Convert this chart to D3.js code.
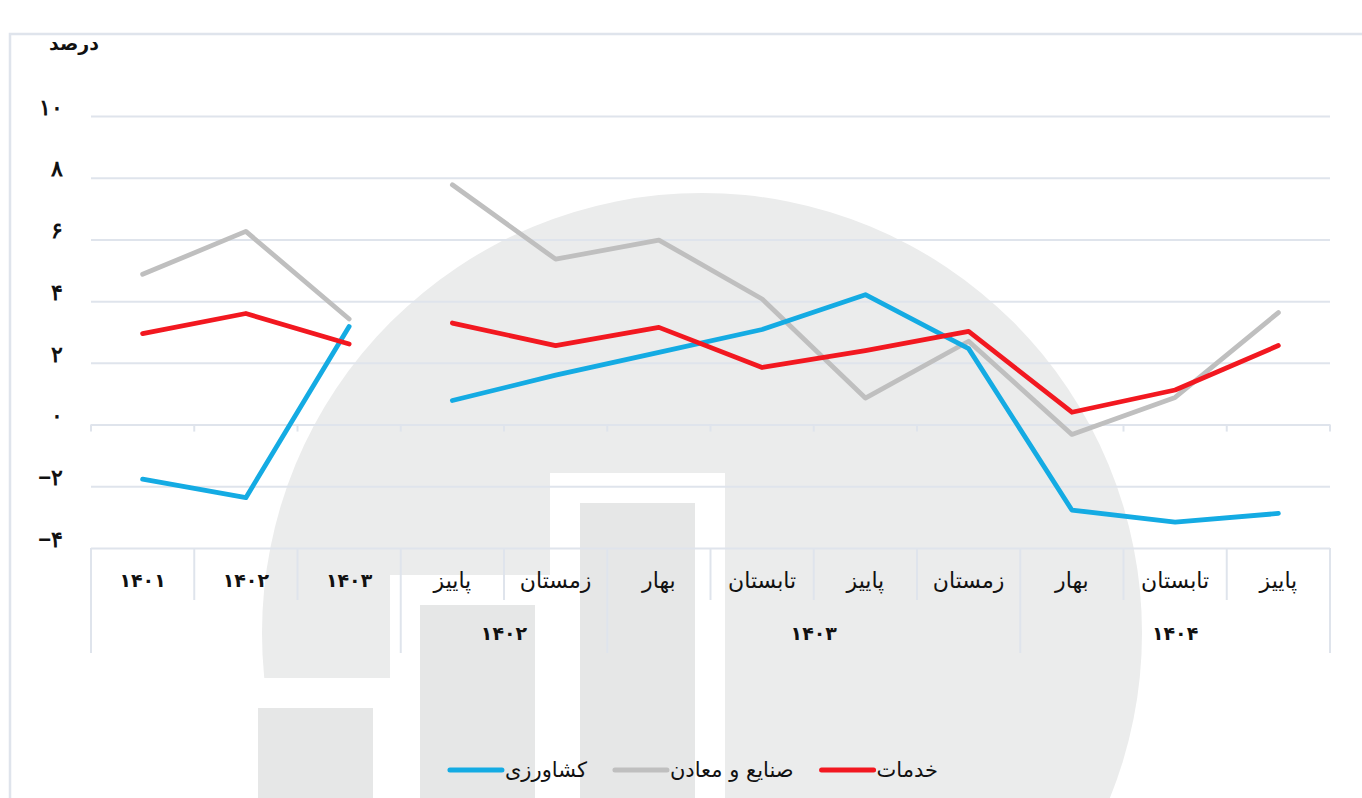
<!DOCTYPE html>
<html>
<head>
<meta charset="utf-8">
<script src="https://cdn.jsdelivr.net/npm/d3@7"></script>
<style>
  body { margin: 0; background: #fff; }
  svg { display: block; font-family: "DejaVu Sans", sans-serif; }
</style>
</head>
<body>
<div id="chart-area"></div>
<script>
// categories along the x axis (annual first, then quarters)
const categories = ["۱۴۰۱", "۱۴۰۲", "۱۴۰۳", "پاییز", "زمستان", "بهار", "تابستان", "پاییز", "زمستان", "بهار", "تابستان", "پاییز"];
const periodKind = ["annual", "annual", "annual", "quarter", "quarter", "quarter", "quarter", "quarter", "quarter", "quarter", "quarter", "quarter"];

// year groups under the quarters
const groupLabels = ["", "۱۴۰۲", "۱۴۰۳", "۱۴۰۴"];
const groupFirst = [0, 3, 5, 9];
const groupLast = [2, 4, 8, 11];

// growth, percent
const agriculture = [-1.77, -2.37, 3.18, 0.78, 1.6, 2.34, 3.08, 4.21, 2.46, -2.77, -3.16, -2.88];
const industry = [4.87, 6.26, 3.42, 7.77, 5.36, 5.98, 4.07, 0.86, 2.7, -0.32, 0.88, 3.63];
const services = [2.95, 3.6, 2.61, 3.29, 2.56, 3.15, 1.85, 2.4, 3.02, 0.4, 1.12, 2.56];

const seriesNames = ["خدمات", "صنایع و معادن", "کشاورزی"];
const yTicks = [-4, -2, 0, 2, 4, 6, 8, 10];

const COLORS = {"خدمات": "#f21820", "صنایع و معادن": "#bfbfbf", "کشاورزی": "#14abe3"};
const GRID = "#dfe4ec";

const series = [
  {name: "صنایع و معادن", values: industry},
  {name: "کشاورزی", values: agriculture},
  {name: "خدمات", values: services}
];

const W = 1362, H = 798;
const plotLeft = 91, plotRight = 1330, plotTop = 116, plotBottom = 548;

const svg = d3.select("#chart-area").append("svg")
    .attr("width", W)
    .attr("height", H);

// card frame
svg.append("path")
    .attr("d", `M10,${H + 5} L10,34 L${W + 5},34`)
    .attr("fill", "none")
    .attr("stroke", GRID)
    .attr("stroke-width", 2.5);

// background logo watermark
const logo = svg.append("g");
logo.append("circle")
    .attr("cx", 702).attr("cy", 633).attr("r", 440)
    .attr("fill", "#ebecec");
const logoBars = [[258, 708], [420, 605], [580, 503]];
logoBars.forEach(b => {
  logo.append("rect").attr("x", b[0] - 30).attr("y", b[1] - 30)
      .attr("width", 175).attr("height", H).attr("fill", "#fff");
});
logoBars.forEach(b => {
  logo.append("rect").attr("x", b[0]).attr("y", b[1])
      .attr("width", 115).attr("height", H).attr("fill", "#e6e7e7");
});

const x = d3.scaleBand()
    .domain(d3.range(categories.length))
    .range([plotLeft, plotRight])
    .padding(0);
const xc = i => x(i) + x.bandwidth() / 2;

const y = d3.scaleLinear()
    .domain([-4, 10])
    .range([plotBottom, plotTop]);

const toFa = v => {
  const s = String(Math.abs(v)).replace(/\d/g, d => "۰۱۲۳۴۵۶۷۸۹"[d]);
  return v < 0 ? "−" + s : s;
};

// gridlines + y labels
const yAxis = svg.append("g")
    .attr("transform", `translate(${plotLeft},0)`)
    .call(d3.axisLeft(y).tickValues(yTicks).tickSize(-(plotRight - plotLeft)).tickFormat(toFa));
yAxis.select(".domain").remove();
yAxis.selectAll(".tick line")
    .attr("stroke", GRID)
    .attr("stroke-width", 2);
yAxis.selectAll(".tick text")
    .attr("x", -28)
    .attr("dy", "-0.08em")
    .attr("font-size", "22px")
    .attr("font-weight", "bold")
    .attr("fill", "#111");

svg.append("text")
    .attr("x", 99).attr("y", 50)
    .attr("text-anchor", "end")
    .attr("font-size", "19px")
    .attr("font-weight", "bold")
    .attr("fill", "#111")
    .text("درصد");

// small ticks under the zero line
const bounds = d3.range(categories.length + 1).map(i => i < categories.length ? x(i) : plotRight);
svg.append("g").selectAll("line")
    .data(bounds)
    .join("line")
    .attr("x1", d => d).attr("x2", d => d)
    .attr("y1", y(0)).attr("y2", y(0) + 7)
    .attr("stroke", GRID).attr("stroke-width", 2);

// category separators below the axis
const groupEdges = new Set(groupFirst.map(i => x(i)).concat([plotRight]));
svg.append("g").selectAll("line")
    .data(bounds)
    .join("line")
    .attr("x1", d => d).attr("x2", d => d)
    .attr("y1", plotBottom)
    .attr("y2", d => groupEdges.has(d) ? 653 : 600)
    .attr("stroke", GRID).attr("stroke-width", 2);

svg.append("g").selectAll("text")
    .data(categories)
    .join("text")
    .attr("x", (d, i) => xc(i))
    .attr("y", (d, i) => periodKind[i] === "annual" ? 587 : 588)
    .attr("text-anchor", "middle")
    .attr("font-size", (d, i) => periodKind[i] === "annual" ? "19px" : "22px")
    .attr("font-weight", (d, i) => periodKind[i] === "annual" ? "bold" : "normal")
    .attr("fill", "#111")
    .text(d => d);

svg.append("g").selectAll("text")
    .data(groupLabels)
    .join("text")
    .attr("x", (d, i) => (x(groupFirst[i]) + x(groupLast[i]) + x.bandwidth()) / 2)
    .attr("y", 640)
    .attr("text-anchor", "middle")
    .attr("font-size", "19px")
    .attr("font-weight", "bold")
    .attr("fill", "#111")
    .text(d => d);

// lines, annual and quarterly parts drawn separately
const line = d3.line()
    .x(d => xc(d.i))
    .y(d => y(d.v));

series.forEach(s => {
  ["annual", "quarter"].forEach(kind => {
    const pts = s.values.map((v, i) => ({i, v})).filter(d => periodKind[d.i] === kind);
    svg.append("path")
        .datum(pts)
        .attr("d", line)
        .attr("fill", "none")
        .attr("stroke", COLORS[s.name])
        .attr("stroke-width", 4.8)
        .attr("stroke-linecap", "round")
        .attr("stroke-linejoin", "round");
  });
});

// legend, laid out right to left
const legend = svg.append("g");
let lx = 938;
const ly = 770;
seriesNames.forEach(name => {
  const t = legend.append("text")
      .attr("x", lx).attr("y", ly + 7)
      .attr("text-anchor", "end")
      .attr("font-size", "21px")
      .attr("fill", "#111")
      .text(name);
  const tw = t.node().getComputedTextLength();
  const lineEnd = lx - tw - 3;
  legend.append("line")
      .attr("x1", lineEnd - 52).attr("x2", lineEnd)
      .attr("y1", ly).attr("y2", ly)
      .attr("stroke", COLORS[name])
      .attr("stroke-width", 5)
      .attr("stroke-linecap", "round");
  lx = lineEnd - 52 - 28;
});
</script>
</body>
</html>
